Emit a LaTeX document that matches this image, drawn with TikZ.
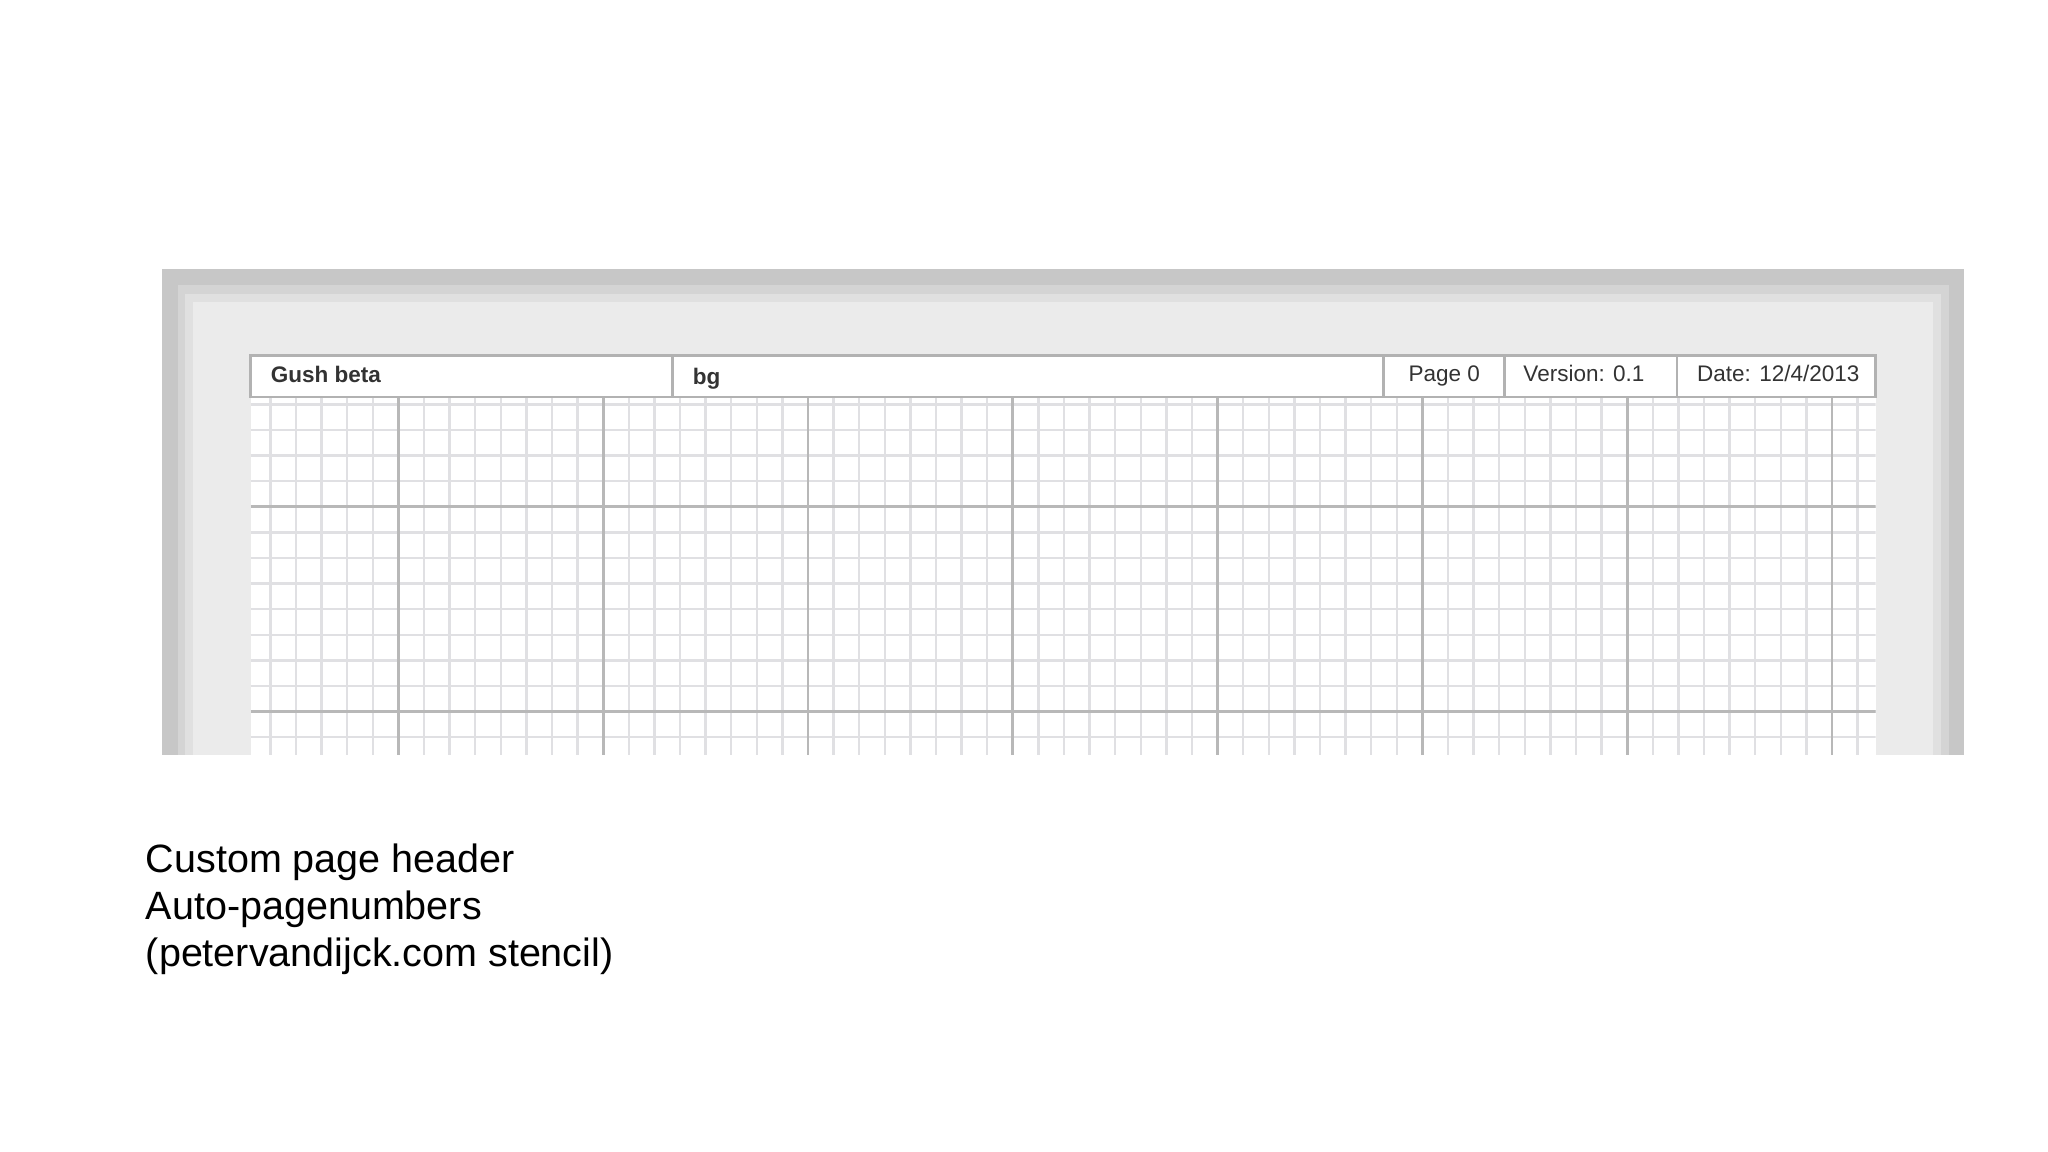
\documentclass[tikz,border=0pt]{standalone}
\usepackage{fontspec}
\setmainfont{Liberation Sans}
\begin{document}
\begin{tikzpicture}[x=0.01cm,y=-0.01cm,
  hdr/.style={font=\fontsize{4.9}{6}\selectfont, text=black!80, anchor=west},
  captxt/.style={font=\fontsize{8.6}{10.4}\selectfont, anchor=west, inner sep=0pt}]
\useasboundingbox (0,0) rectangle (1568,882);
\fill[white] (0,0) rectangle (1568,882);
% outer gray band
\fill[black!22] (124,206) rectangle (1504,578);
\fill[black!17] (136,218) rectangle (1492,578);
\fill[black!12] (142,225) rectangle (1486,578);
% page
\fill[black!8] (148,231) rectangle (1480,578);
% grid
\fill[white] (192,305) rectangle (1436,578);
\begin{scope}
\clip (192,305) rectangle (1436,578);
\foreach \i in {-6,...,57} {
  \draw[blue!8!black!12, line width=0.5pt] ({305+\i*19.6},305) -- ({305+\i*19.6},578);
}
\foreach \j in {-4,...,10} {
  \draw[blue!8!black!12, line width=0.5pt] (192,{388+\j*19.6}) -- (1436,{388+\j*19.6});
}
\foreach \i in {0,...,7} {
  \draw[black!28, line width=0.6pt] ({305+\i*156.8},305) -- ({305+\i*156.8},578);
}
\foreach \j in {0,1} {
  \draw[black!28, line width=0.6pt] (192,{388+\j*156.8}) -- (1436,{388+\j*156.8});
}
\end{scope}
% header
\draw[black!30, fill=white, line width=0.6pt] (192,272) rectangle (1436,304);
\foreach \x in {515,1059,1152,1284} \draw[black!30, line width=0.6pt] (\x,272) -- (\x,304);
\node[hdr, font=\bfseries\fontsize{4.9}{6}\selectfont] (t1) at (195,287) {Gush beta};
\node[hdr, font=\bfseries\fontsize{4.9}{6}\selectfont] (t2) at (518,290) {bg};
\node[hdr] (t3) at (1066,288) {Page 0};
\node[hdr] (t4) at (1154,286) {Version: 0.1};
\node[hdr] (t5) at (1287,286) {Date: 12/4/2013};
% caption
\node[captxt] (c1) at (111,660) {Custom page header};
\node[captxt] (c2) at (111,696) {Auto-pagenumbers};
\node[captxt] (c3) at (111,732) {(petervandijck.com stencil)};
\end{tikzpicture}
\end{document}
